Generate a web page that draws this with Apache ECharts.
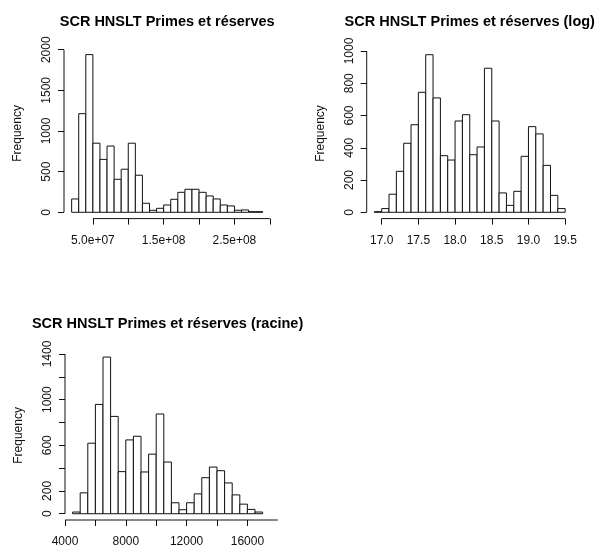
<!DOCTYPE html>
<html><head><meta charset="utf-8">
<script src="https://cdn.jsdelivr.net/npm/echarts@6/dist/echarts.min.js"></script>
<style>html,body{margin:0;padding:0;background:#fff}#c{width:596px;height:548px}</style>
</head><body><div id="c"></div>
<script>
// ---- data ----
const titles = ['SCR HNSLT Primes et réserves', 'SCR HNSLT Primes et réserves (log)', 'SCR HNSLT Primes et réserves (racine)'];
const yName = 'Frequency';

const breaks1 = [2e7,3e7,4e7,5e7,6e7,7e7,8e7,9e7,1e8,1.1e8,1.2e8,1.3e8,1.4e8,1.5e8,1.6e8,1.7e8,1.8e8,1.9e8,2e8,2.1e8,2.2e8,2.3e8,2.4e8,2.5e8,2.6e8,2.7e8,2.8e8,2.9e8];
const counts1 = [164,1213,1940,850,651,815,406,530,850,456,111,25,49,90,160,246,283,283,246,201,164,90,78,25,29,8,8];
const xTicks1 = [5e7,1e8,1.5e8,2e8,2.5e8,3e8];
const xLabels1 = ['5.0e+07','','1.5e+08','','2.5e+08',''];
const yTicks1 = [0,500,1000,1500,2000];
const yLabels1 = ['0','500','1000','1500','2000'];

const breaks2 = [16.9,17.0,17.1,17.2,17.3,17.4,17.5,17.6,17.7,17.8,17.9,18.0,18.1,18.2,18.3,18.4,18.5,18.6,18.7,18.8,18.9,19.0,19.1,19.2,19.3,19.4,19.5];
const counts2 = [4,23,112,254,428,543,744,977,709,351,324,566,605,357,405,893,566,120,43,130,347,531,486,291,105,23];
const xTicks2 = [17.0,17.5,18.0,18.5,19.0,19.5];
const xLabels2 = ['17.0','17.5','18.0','18.5','19.0','19.5'];
const yTicks2 = [0,200,400,600,800,1000];
const yLabels2 = ['0','200','400','600','800','1000'];

const breaks3 = [4500,5000,5500,6000,6500,7000,7500,8000,8500,9000,9500,10000,10500,11000,11500,12000,12500,13000,13500,14000,14500,15000,15500,16000,16500,17000];
const counts3 = [15,183,618,958,1373,853,369,647,679,366,522,874,453,96,35,96,174,316,409,377,270,165,84,38,15];
const xTicks3 = [4000,6000,8000,10000,12000,14000,16000,18000];
const xLabels3 = ['4000','','8000','','12000','','16000',''];
const yTicks3 = [0,200,400,600,800,1000,1200,1400];
const yLabels3 = ['0','200','','600','','1000','','1400'];

// ---- layout / style ----
const FONT = '"Liberation Sans", Arial, sans-serif';
const INK = '#111';
const FS = 12;
const layout = [
  {left:64,    top:48.3,  width:206.4, height:170.3, tx:167.2,  ty:21.5},
  {left:366.7, top:48.4,  width:206.1, height:170.2, tx:469.75, ty:21.5},
  {left:65,    top:350.8, width:205.2, height:170.2, tx:167.6,  ty:323.5}
];
const panels = [
  {breaks:breaks1, counts:counts1, xt:xTicks1, xl:xLabels1, yt:yTicks1, yl:yLabels1},
  {breaks:breaks2, counts:counts2, xt:xTicks2, xl:xLabels2, yt:yTicks2, yl:yLabels2},
  {breaks:breaks3, counts:counts3, xt:xTicks3, xl:xLabels3, yt:yTicks3, yl:yLabels3}
];

function lookup(ticks, labels) {
  return function (v) {
    const span = Math.abs(ticks[ticks.length-1] - ticks[0]) || 1;
    for (let i = 0; i < ticks.length; i++) if (Math.abs(ticks[i]-v) < span*1e-6) return labels[i];
    return '';
  };
}

const grid = [], xAxis = [], yAxis = [], series = [], graphic = [];
panels.forEach((p, i) => {
  const L = layout[i];
  const b0 = p.breaks[0], bn = p.breaks[p.breaks.length-1];
  const xr = bn - b0;
  const ymax = Math.max.apply(null, p.counts);
  const xmin = b0 - 0.04*xr, xmax = bn + 0.04*xr;
  const ymin = -0.04*ymax, ymaxA = 1.04*ymax;
  grid.push({left:L.left, top:L.top, width:L.width, height:L.height, containLabel:false});
  xAxis.push({
    type:'value', gridIndex:i, min:xmin, max:xmax, splitLine:{show:false},
    axisLine:{show:false, onZero:false},
    axisTick:{show:true, inside:false, customValues:p.xt, length:6, lineStyle:{color:INK, width:1}},
    axisLabel:{show:true, customValues:p.xt, formatter:lookup(p.xt, p.xl), margin:16,
      color:INK, fontFamily:FONT, fontSize:FS, hideOverlap:false}
  });
  yAxis.push({
    type:'value', gridIndex:i, min:ymin, max:ymaxA, splitLine:{show:false},
    axisLine:{show:false, onZero:false},
    name:yName, nameLocation:'middle', nameGap:40,
    nameTextStyle:{color:INK, fontFamily:FONT, fontSize:FS},
    axisTick:{show:true, inside:false, customValues:p.yt, length:6, lineStyle:{color:INK, width:1}},
    axisLabel:{show:true, customValues:p.yt, formatter:lookup(p.yt, p.yl), margin:11, rotate:90,
      color:INK, fontFamily:FONT, fontSize:FS, hideOverlap:false}
  });
  const data = p.counts.map((c, k) => [p.breaks[k], p.breaks[k+1], c]);
  series.push({
    type:'custom', xAxisIndex:i, yAxisIndex:i, data:data, encode:{x:[0,1], y:2},
    clip:false, silent:true,
    renderItem:function (params, api) {
      const a = api.coord([api.value(0), 0]);
      const b = api.coord([api.value(1), api.value(2)]);
      return {type:'rect', shape:{x:a[0], y:b[1], width:b[0]-a[0], height:a[1]-b[1]},
        style:{fill:'#fff', stroke:INK, lineWidth:1}};
    }
  });
  // axis lines spanning first..last tick (R style)
  series.push({
    type:'custom', xAxisIndex:i, yAxisIndex:i, data:[[0]], clip:false, silent:true,
    renderItem:function (params, api) {
      const xa = api.coord([p.xt[0], ymin]);
      const xb = api.coord([p.xt[p.xt.length-1], ymin]);
      const ya = api.coord([xmin, p.yt[0]]);
      const yb = api.coord([xmin, p.yt[p.yt.length-1]]);
      return {type:'group', children:[
        {type:'line', shape:{x1:xa[0], y1:xa[1], x2:xb[0], y2:xb[1]}, style:{stroke:INK, lineWidth:1}},
        {type:'line', shape:{x1:ya[0], y1:ya[1], x2:yb[0], y2:yb[1]}, style:{stroke:INK, lineWidth:1}}
      ]};
    }
  });
  graphic.push({type:'text', x:L.tx, y:L.ty, silent:true,
    style:{text:titles[i], fill:'#000', font:'bold 14.5px ' + FONT, textAlign:'center', textVerticalAlign:'middle'}});
});

const chart = echarts.init(document.getElementById('c'), null, {renderer:'canvas'});
chart.setOption({animation:false, backgroundColor:'#fff', grid, xAxis, yAxis, series, graphic});
</script></body></html>
